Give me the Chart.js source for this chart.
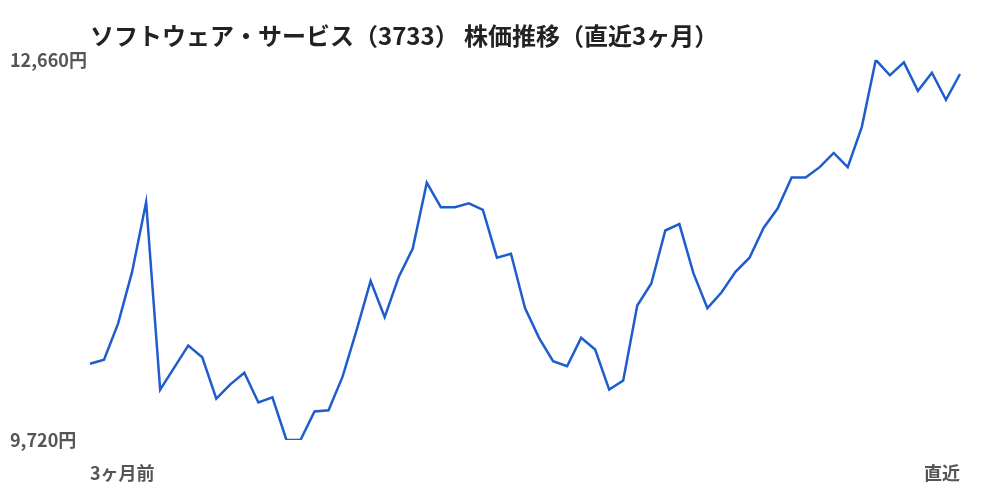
<!DOCTYPE html>
<html>
<head>
<meta charset="utf-8">
<script src="https://cdn.jsdelivr.net/npm/chart.js@4"></script>
<style>
  html, body { margin: 0; padding: 0; background: #fff; }
  #wrap { width: 1000px; height: 500px; }
</style>
</head>
<body>
<div id="wrap"><canvas id="stockChart"></canvas></div>
<script>
const chartTitle = 'ソフトウェア・サービス（3733） 株価推移（直近3ヶ月）';
const yMin = 9720;
const yMax = 12660;
const yTickValues = [9720, 12660];
const xEdgeLabels = ['3ヶ月前', '直近'];

// daily closes (oldest -> latest)
const prices = [
    10310, 10340, 10620, 11020, 11560, 10110, 10280, 10450, 10360, 10040,
    10150, 10240, 10010, 10050, 9720, 9720, 9940, 9950, 10210, 10570,
    10950, 10670, 10980, 11200, 11710, 11520, 11520, 11550, 11500, 11130,
    11160, 10740, 10510, 10330, 10290, 10510, 10420, 10110, 10180, 10760,
    10930, 11340, 11390, 11010, 10740, 10860, 11020, 11130, 11360, 11510,
    11750, 11750, 11830, 11940, 11830, 12140, 12660, 12540, 12640, 12420,
    12560, 12350, 12550
];
const days = prices.map((_, i) => i);

const font = '"Noto Sans CJK JP", "Noto Sans", sans-serif';

const ctx = document.getElementById('stockChart').getContext('2d');
new Chart(ctx, {
    type: 'line',
    data: {
        labels: days,
        datasets: [{
            data: prices,
            borderColor: '#1f5ccc',
            borderWidth: 2.5,
            pointRadius: 0,
            fill: false,
            tension: 0
        }]
    },
    options: {
        responsive: true,
        maintainAspectRatio: false,
        animation: false,
        layout: { padding: { left: 10, right: 40, top: 0, bottom: 0 } },
        plugins: {
            legend: { display: false },
            tooltip: { enabled: false },
            title: {
                display: true,
                text: chartTitle,
                align: 'start',
                fullSize: false,
                color: '#222',
                font: { family: font, size: 24, weight: 'bold' },
                padding: { top: 21, bottom: 10 }
            }
        },
        scales: {
            x: {
                grid: { display: false, drawTicks: false },
                border: { display: false },
                afterFit: scale => { scale.height = 60; },
                ticks: {
                    autoSkip: false,
                    maxRotation: 0,
                    align: 'inner',
                    padding: 22,
                    color: '#555',
                    font: { family: font, size: 18, weight: 'bold' },
                    callback: (v, i) => i === 0 ? xEdgeLabels[0] : (i === prices.length - 1 ? xEdgeLabels[1] : '')
                }
            },
            y: {
                min: yMin,
                max: yMax,
                grid: { display: false, drawTicks: false },
                border: { display: false },
                afterBuildTicks: scale => { scale.ticks = yTickValues.map(v => ({ value: v })); },
                afterFit: scale => { scale.width = 80; },
                ticks: {
                    crossAlign: 'far',
                    padding: 0,
                    color: '#555',
                    font: { family: font, size: 18, weight: 'bold' },
                    callback: v => v.toLocaleString('ja-JP') + '円'
                }
            }
        }
    }
});
</script>
</body>
</html>
